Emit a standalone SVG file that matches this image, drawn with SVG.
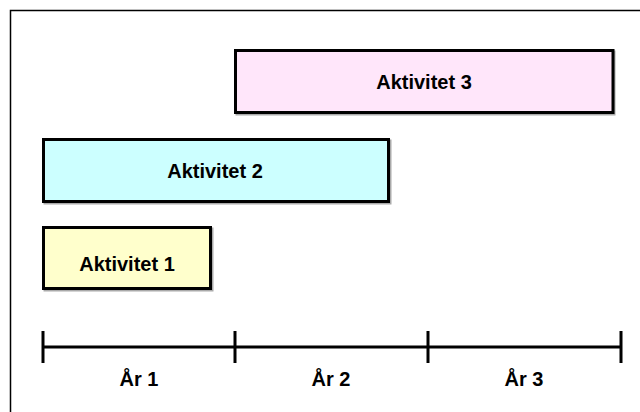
<svg xmlns="http://www.w3.org/2000/svg" width="640" height="412" viewBox="0 0 640 412">
  <style>
    .box { stroke: #000; stroke-width: 3; }
    .shadow { fill: none; stroke: #aaa; stroke-width: 3; }
    .lbl { font-family: "Liberation Sans", Arial, sans-serif; font-weight: bold; font-size: 20px; fill: #000; text-anchor: middle; }
    .axis { stroke: #000; stroke-width: 3; fill: none; }
  </style>
  <rect width="640" height="412" fill="#fff"/>
  <!-- frame -->
  <path d="M10.5 412 V10.5 H640" fill="none" stroke="#000" stroke-width="1.5"/>

  <g id="aktivitet3">
    <rect class="shadow" x="237" y="52" width="377" height="62"/>
    <rect class="box" x="235.5" y="50.5" width="377.5" height="62" fill="#ffe6fa"/>
    <text class="lbl" x="424" y="89">Aktivitet 3</text>
  </g>
  <g id="aktivitet2">
    <rect class="shadow" x="45" y="141" width="345" height="62"/>
    <rect class="box" x="43.5" y="139.5" width="345" height="62" fill="#ccffff"/>
    <text class="lbl" x="215" y="178">Aktivitet 2</text>
  </g>
  <g id="aktivitet1">
    <rect class="shadow" x="45" y="229" width="167" height="61"/>
    <rect class="box" x="43.5" y="227.5" width="167" height="61" fill="#ffffcc"/>
    <text class="lbl" x="127" y="271">Aktivitet 1</text>
  </g>

  <g id="connectors">
    <path class="axis" d="M43 347 H621 M43 331 V363 M235 331 V363 M428 331 V363 M621 331 V363"/>
  </g>
  <g id="years">
    <text class="lbl" x="139" y="386">År 1</text>
    <text class="lbl" x="331" y="386">År 2</text>
    <text class="lbl" x="524" y="386">År 3</text>
  </g>
</svg>
